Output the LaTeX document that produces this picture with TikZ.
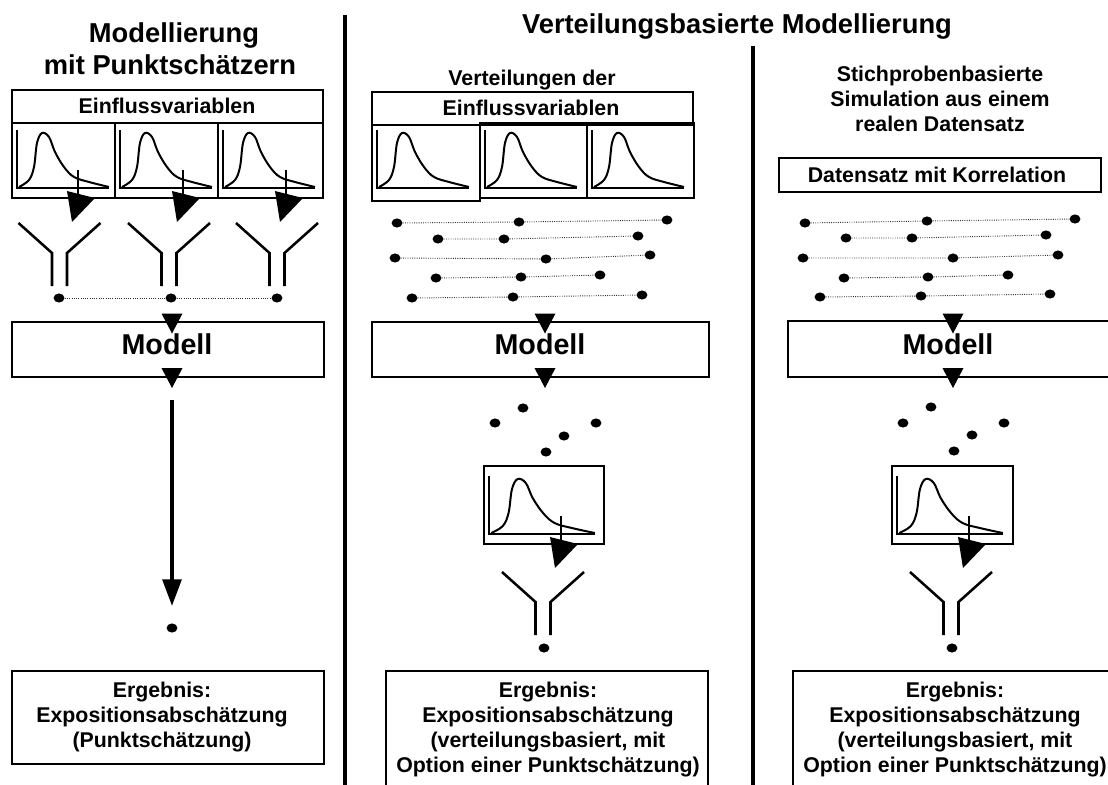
\documentclass[tikz,border=0pt]{standalone}
\usepackage{fontspec}
\setmainfont{Liberation Sans}
\usetikzlibrary{arrows.meta,fit,shapes.geometric}
\begin{document}
\begin{tikzpicture}[x=0.75pt,y=-0.75pt,
  box/.style={draw,line width=2pt,inner sep=0pt},
  sepline/.style={line width=3.6pt},
  dot/.style={ellipse,fill,inner sep=0pt,minimum width=8.2pt,minimum height=6.8pt},
  dotline/.style={line width=0.7pt,densely dotted,black!80},
  funline/.style={line width=1.9pt},
  txt/.style={font=\fontsize{16}{18.75}\selectfont\bfseries,align=center,inner sep=0pt},
  ttl/.style={font=\fontsize{20.5}{24}\selectfont\bfseries,inner sep=0pt},
  mdl/.style={font=\fontsize{21.5}{25}\selectfont\bfseries,inner sep=0pt},
  bigarrow/.style={line width=3pt,-{Triangle[length=20pt,width=14pt]}},
  distc/.pic={
    \draw[line width=1.5pt] (0,-58) -- (0,0) -- (92,0);
    \draw[line width=1.5pt] plot[smooth,tension=0.6] coordinates {(2,-1) (12,-8) (17,-21) (20,-45) (25,-55) (32,-51) (38,-36) (47,-21) (57,-11) (72,-6) (92,-1)};
  },
  tickarrow/.pic={
    \draw[line width=1.6pt] (0,-18) -- (0,12);
    \fill (-11,3) -- (17,10) -- (-6,34) -- cycle;
  },
  downtri/.pic={\fill (-10.5,-10) -- (10.5,-10) -- (0,10) -- cycle;},
  funnel/.pic={
    \draw[funline] (-41,0) -- (-7.5,30) -- (-7.5,63);
    \draw[funline] (41,0) -- (7.5,30) -- (7.5,63);
  }
]
\useasboundingbox (0,0) rectangle (1108,785);
\clip (0,0) rectangle (1108,785);

% separators
\draw[sepline] (345,15) -- (345,790);
\draw[sepline] (753,46) -- (753,790);

% titles
\node[ttl,anchor=base] (tL1) at (174,42) {Modellierung};
\node[ttl,anchor=base] (tL2) at (170,74) {mit Punktschätzern};
\node[ttl,anchor=base] (tT) at (737,33) {Verteilungsbasierte Modellierung};
\node[txt,anchor=base] (tM) at (532,85) {Verteilungen der};
\node[txt,anchor=base] (tR1) at (940,81) {Stichprobenbasierte};
\node[txt,anchor=base] (tR2) at (940,106) {Simulation aus einem};
\node[txt,anchor=base] (tR3) at (940,131) {realen Datensatz};

% ---------- left column ----------
\node[box,fit={(12,90)(323,123)}] (einfL) {};
\node[txt,anchor=base] (einfLt) at (167,113) {Einflussvariablen};
\node[box,fit={(12,123)(115,198)}] (dL1) {};
\node[box,fit={(115,123)(218,198)}] (dL2) {};
\node[box,fit={(218,123)(323,198)}] (dL3) {};
\pic at (17,188) {distc};
\pic at (120,188) {distc};
\pic at (223,188) {distc};
\pic at (78,188) {tickarrow};
\pic at (183,188) {tickarrow};
\pic at (286,188) {tickarrow};
\pic at (59.5,223) {funnel};
\pic at (169,223) {funnel};
\pic at (277,223) {funnel};
\node[dot] (pL1) at (59,298) {};
\node[dot] (pL2) at (171,298) {};
\node[dot] (pL3) at (277,298) {};
\draw[dotline] (pL1) -- (pL2) -- (pL3);
\node[box,fit={(12,322)(324,377)}] (modL) {};
\node[mdl,anchor=base] (modLt) at (167,354) {Modell};
\pic at (172,323.5) {downtri};
\pic at (172,378) {downtri};
\coordinate (aS) at (172,400);
\coordinate (aE) at (172,606);
\draw[bigarrow] (aS) -- (aE);
\node[dot] (oL) at (172,628) {};
\node[box,fit={(12,671)(324,764)}] (resL) {};
\node[txt,anchor=north] (resLt) at (162,681.5) {Ergebnis:\\Expositionsabschätzung\\(Punktschätzung)};

% ---------- middle column ----------
\node[box,fit={(372,92)(693,125)}] (einfM) {};
\node[txt,anchor=base] (einfMt) at (531,115) {Einflussvariablen};
\node[box,fit={(372,125)(480,201)}] (dM1) {};
\node[box,fit={(480,123)(587,198)}] (dM2) {};
\node[box,fit={(587,123)(694,198)}] (dM3) {};
\pic at (377,188) {distc};
\pic at (485,188) {distc};
\pic at (592,188) {distc};
\foreach \n/\x/\y in {m11/397/223,m12/519/222,m13/667/220,
                      m21/438/239,m22/504/239,m23/638/236,
                      m31/395/258,m32/546/259,m33/650/255,
                      m41/436/278,m42/521/277,m43/600/275,
                      m51/412/298,m52/513/297,m53/642/295}
  {\node[dot] (\n) at (\x,\y) {};}
\foreach \r in {1,...,5}
  {\draw[dotline] (m\r1) -- (m\r2) -- (m\r3);}
\node[box,fit={(372,322)(709,377)}] (modM) {};
\node[mdl,anchor=base] (modMt) at (540,354) {Modell};
\pic at (545,323.5) {downtri};
\pic at (545,378) {downtri};
\foreach \n/\x/\y in {s1/523/408,s2/495/423,s3/596/423,s4/564/436,s5/546/452}
  {\node[dot] (\n) at (\x,\y) {};}
\node[box,fit={(484,466)(604,544)}] (dM) {};
\pic[xscale=1.15] at (489,534) {distc};
\pic at (561,534) {tickarrow};
\pic at (543,572) {funnel};
\node[dot] (oM) at (544,648) {};
\node[box,fit={(386,671)(708,800)}] (resM) {};
\node[txt,anchor=north] (resMt) at (548,681.5) {Ergebnis:\\Expositionsabschätzung\\(verteilungsbasiert, mit\\Option einer Punktschätzung)};

% ---------- right column ----------
\node[box,fit={(779,158)(1101,192)}] (dsR) {};
\node[txt,anchor=base] (dsRt) at (937,182) {Datensatz mit Korrelation};
\foreach \n/\x/\y in {r11/805/223,r12/927/221,r13/1075/219,
                      r21/846/238,r22/912/238,r23/1046/235,
                      r31/803/258,r32/953/258,r33/1058/255,
                      r41/844/278,r42/928/277,r43/1008/275,
                      r51/820/297,r52/921/296,r53/1050/294}
  {\node[dot] (\n) at (\x,\y) {};}
\foreach \r in {1,...,5}
  {\draw[dotline] (r\r1) -- (r\r2) -- (r\r3);}
\node[box,fit={(788,321)(1125,377)}] (modR) {};
\node[mdl,anchor=base] (modRt) at (948,354) {Modell};
\pic at (953,323.5) {downtri};
\pic at (953,378) {downtri};
\foreach \n/\x/\y in {q1/931/407,q2/903/423,q3/1004/423,q4/972/435,q5/954/451}
  {\node[dot] (\n) at (\x,\y) {};}
\node[box,fit={(892,466)(1013,544)}] (dR) {};
\pic[xscale=1.15] at (897,534) {distc};
\pic at (969,534) {tickarrow};
\pic at (951,572) {funnel};
\node[dot] (oR) at (952,648) {};
\node[box,fit={(793,671)(1125,800)}] (resR) {};
\node[txt,anchor=north] (resRt) at (955,681.5) {Ergebnis:\\Expositionsabschätzung\\(verteilungsbasiert, mit\\Option einer Punktschätzung)};
\end{tikzpicture}
\end{document}
